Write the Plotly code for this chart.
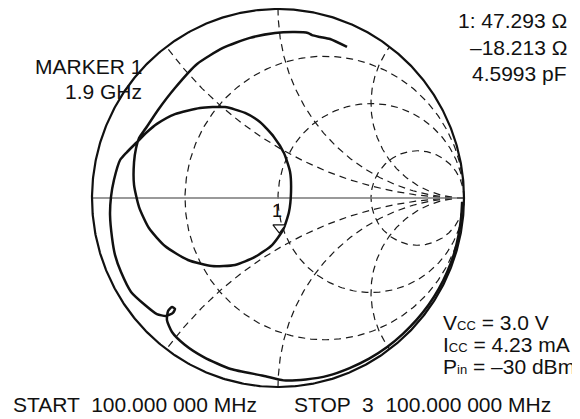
import numpy as np
import plotly.graph_objects as go

# ---------------- data ----------------
# Measured input reflection coefficient, 100 MHz -> 3.1 GHz (real / imaginary)
gamma_re = [0.990, 0.985, 0.970, 0.945, 0.910, 0.865, 0.810, 0.745, 0.670, 0.585,
            0.490, 0.385, 0.270, 0.150, 0.030,
            -0.080, -0.254, -0.397, -0.503, -0.570, -0.597,
            -0.591, -0.570, -0.554, -0.565, -0.602, -0.651,
            -0.715, -0.790, -0.844, -0.876, -0.892, -0.903, -0.898, -0.882, -0.849, -0.812, -0.763,
            -0.704, -0.651, -0.554, -0.419, -0.285, -0.177, -0.097, -0.022, 0.032, 0.065,
            0.070, 0.059, 0.027, -0.032, -0.124, -0.231, -0.355, -0.484, -0.608, -0.694,
            -0.747, -0.774, -0.774, -0.763, -0.747,
            -0.710, -0.645, -0.554, -0.435, -0.296, -0.151, -0.016, 0.091, 0.161, 0.183,
            0.226, 0.280, 0.371]
gamma_im = [-0.020, -0.100, -0.200, -0.300, -0.390, -0.480, -0.565, -0.645, -0.720, -0.790,
            -0.850, -0.900, -0.940, -0.960, -0.965,
            -0.940, -0.905, -0.843, -0.775, -0.709, -0.646,
            -0.598, -0.577, -0.587, -0.608, -0.624, -0.614,
            -0.566, -0.497, -0.392, -0.302, -0.212, -0.090, 0.005, 0.095, 0.201, 0.243, 0.291,
            0.349, 0.392, 0.444, 0.476, 0.481, 0.450, 0.402, 0.323, 0.238, 0.138,
            0.032, -0.074, -0.169, -0.249, -0.312, -0.354, -0.360, -0.328, -0.254, -0.159,
            -0.048, 0.069, 0.190, 0.265, 0.317,
            0.370, 0.466, 0.582, 0.709, 0.794, 0.847, 0.873, 0.878, 0.873, 0.862,
            0.852, 0.841, 0.799]

# Marker 1 readout
marker_label = "1"
marker_freq = "1.9 GHz"
marker_r_ohm = 47.293
marker_x_ohm = -18.213
marker_c_pf = 4.5993
z0_ohm = 50.0

# Smith chart grid values
r_circles = [1 / 3, 1, 3]
x_arcs = [0.5, 1, 2, -0.5, -1, -2]

# Text blocks
readout_lines = ["1: 47.293 Ω", "–18.213 Ω", "4.5993 pF"]
marker_lines = ["MARKER 1", "1.9 GHz"]
bias_lines = ["V<span style='font-size:13px'>CC</span> = 3.0 V",
              "I<span style='font-size:13px'>CC</span> = 4.23 mA",
              "P<span style='font-size:13px'>in</span> = –30 dBm"]
start_text = "START  100.000 000 MHz"
stop_text = "STOP  3  100.000 000 MHz"

# ---------------- layout geometry ----------------
W, H = 580, 419          # browser window
OFF = 8                  # default page body margin
FW, FH = W - OFF, H - OFF
CX, CY, SX, SY = 278.0, 198.0, 186.0, 189.0
FONT = "Liberation Sans, Arial, Helvetica, sans-serif"

def px(x):
    return (x - OFF) / FW

def py(y):
    return 1 - (y - OFF) / FH

fig = go.Figure()
grid_style = dict(color="#1a1a1a", width=1.2, dash="7px,5px")

# constant-resistance circles
for r in r_circles:
    c, rad = r / (1 + r), 1 / (1 + r)
    t = np.linspace(0, 2 * np.pi, 400)
    fig.add_trace(go.Scatter(x=c + rad * np.cos(t), y=rad * np.sin(t), mode="lines",
                             line=grid_style, hoverinfo="skip", showlegend=False))

# constant-reactance arcs
for xv in x_arcs:
    a = abs(xv)
    px_r = (a * a - 1) / (a * a + 1)
    py_r = 2 * a / (a * a + 1)
    th_end = np.arctan2(py_r - 1 / a, px_r - 1)
    if th_end > -np.pi / 2:
        th_end -= 2 * np.pi
    t = np.linspace(-np.pi / 2, th_end, 300)
    xs = 1 + (1 / a) * np.cos(t)
    ys = 1 / a + (1 / a) * np.sin(t)
    if xv < 0:
        ys = -ys
    fig.add_trace(go.Scatter(x=xs, y=ys, mode="lines", line=grid_style,
                             hoverinfo="skip", showlegend=False))

# real axis
fig.add_trace(go.Scatter(x=[-1, 1], y=[0, 0], mode="lines",
                         line=dict(color="#777777", width=1.3),
                         hoverinfo="skip", showlegend=False))

# outer circle
t = np.linspace(0, 2 * np.pi, 720)
fig.add_trace(go.Scatter(x=np.cos(t), y=np.sin(t), mode="lines",
                         line=dict(color="#111111", width=2.2),
                         hoverinfo="skip", showlegend=False))

# measured trace
fig.add_trace(go.Scatter(x=gamma_re, y=gamma_im, mode="lines",
                         line=dict(color="#111111", width=2.5, shape="spline", smoothing=0.6),
                         hoverinfo="skip", showlegend=False))

# marker
zn = complex(marker_r_ohm, marker_x_ohm) / z0_ohm
gm = (zn - 1) / (zn + 1)
tri_r = 5.5
fig.add_trace(go.Scatter(x=[gm.real], y=[gm.imag + tri_r / SY], mode="markers",
                         marker=dict(symbol="triangle-down", size=11, color="white",
                                     line=dict(color="#111111", width=1.2)),
                         hoverinfo="skip", showlegend=False))

ann = []
ann.append(dict(x=gm.real, y=gm.imag, xref="x", yref="y", text=marker_label,
                showarrow=False, yshift=22, xshift=-2,
                font=dict(family=FONT, size=18, color="#111111")))

for i, s in enumerate(readout_lines):
    ann.append(dict(x=px(569), y=py(21 + 26 * i), xref="paper", yref="paper", text=s,
                    showarrow=False, xanchor="right", yanchor="middle",
                    font=dict(family=FONT, size=21, color="#111111")))
for i, s in enumerate(marker_lines):
    ann.append(dict(x=px(144), y=py(67 + 25 * i), xref="paper", yref="paper", text=s,
                    showarrow=False, xanchor="right", yanchor="middle",
                    font=dict(family=FONT, size=21, color="#111111")))
for i, s in enumerate(bias_lines):
    ann.append(dict(x=px(441), y=py(322 + 22 * i), xref="paper", yref="paper", text=s,
                    showarrow=False, xanchor="left", yanchor="middle",
                    font=dict(family=FONT, size=21, color="#111111")))
ann.append(dict(x=px(11), y=py(404), xref="paper", yref="paper", text=start_text,
                showarrow=False, xanchor="left", yanchor="middle",
                font=dict(family=FONT, size=21, color="#111111")))
ann.append(dict(x=px(292), y=py(404), xref="paper", yref="paper", text=stop_text,
                showarrow=False, xanchor="left", yanchor="middle",
                font=dict(family=FONT, size=21, color="#111111")))

fig.update_layout(
    width=FW, height=FH, autosize=False,
    margin=dict(l=0, r=0, t=0, b=0, pad=0),
    paper_bgcolor="white", plot_bgcolor="white",
    xaxis=dict(range=[(OFF - CX) / SX, (W - CX) / SX], visible=False, fixedrange=True),
    yaxis=dict(range=[(CY - H) / SY, (CY - OFF) / SY], visible=False, fixedrange=True),
    annotations=ann,
    showlegend=False,
)

fig.write_html("out.html")
